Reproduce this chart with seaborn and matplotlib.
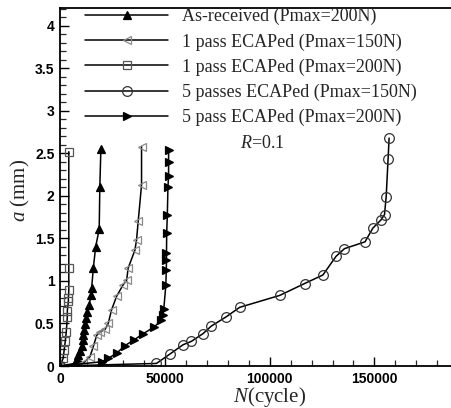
import matplotlib
matplotlib.use("Agg")
import matplotlib.pyplot as plt
import seaborn as sns
import numpy as np
from matplotlib.lines import Line2D
from matplotlib.ticker import MultipleLocator

# ---- data ----
labels = ["As-received (Pmax=200N)", "1 pass ECAPed (Pmax=150N)",
          "1 pass ECAPed (Pmax=200N)", "5 passes ECAPed (Pmax=150N)",
          "5 pass ECAPed (Pmax=200N)"]

n_asrec = [0, 7000, 8000, 8700, 9500, 10300, 10800, 11100, 11600, 12000, 12500,
           13000, 13900, 14800, 15100, 15900, 17000, 18700, 19000, 19500]
a_asrec = [0, 0.03, 0.08, 0.13, 0.18, 0.24, 0.30, 0.36, 0.42, 0.49, 0.56,
           0.63, 0.72, 0.83, 0.92, 1.15, 1.40, 1.61, 2.11, 2.55]

n_1p150 = [0, 11000, 14300, 15900, 17500, 19000, 21500, 23000, 24600, 27000,
           30000, 31800, 32500, 35700, 36500, 37300, 38900, 38900]
a_1p150 = [0, 0.03, 0.11, 0.23, 0.36, 0.40, 0.43, 0.50, 0.66, 0.82,
           0.95, 1.01, 1.15, 1.36, 1.48, 1.70, 2.13, 2.58]

n_1p200 = [0, 1500, 2000, 2500, 3000, 3500, 3500, 4000, 4000, 4200, 4200, 4200]
a_1p200 = [0, 0.09, 0.19, 0.29, 0.40, 0.58, 0.65, 0.76, 0.80, 0.89, 1.15, 2.52]

n_5p150 = [0, 46000, 52400, 58700, 62700, 68200, 72200, 79400, 85700, 104800,
           116700, 125400, 131700, 135700, 145500, 149200, 153200, 154800,
           155600, 156500, 157000]
a_5p150 = [0, 0.03, 0.14, 0.25, 0.29, 0.38, 0.47, 0.58, 0.69, 0.83,
           0.97, 1.07, 1.29, 1.38, 1.46, 1.62, 1.72, 1.78,
           1.99, 2.43, 2.68]

n_5p200 = [0, 20000, 23000, 27000, 31000, 35500, 39700, 45000, 48400, 49000,
           49500, 50500, 50700, 50800, 50800, 50900, 51200, 51500, 51800, 51800, 51800]
a_5p200 = [0, 0.05, 0.09, 0.15, 0.24, 0.31, 0.38, 0.46, 0.54, 0.60,
           0.67, 0.95, 1.13, 1.25, 1.33, 1.56, 1.78, 2.11, 2.23, 2.40, 2.54]

x_ticks = [0, 50000, 100000, 150000]
y_ticks = [0, 0.5, 1, 1.5, 2, 2.5, 3, 3.5, 4]

series = [
    (n_asrec, a_asrec, dict(marker="^", markersize=5.5, markerfacecolor="black",
                            markeredgecolor="black")),
    (n_1p150, a_1p150, dict(marker="<", markersize=5.5, markerfacecolor="none",
                            markeredgecolor="#8a8a8a")),
    (n_1p200, a_1p200, dict(marker="s", markersize=5.5, markerfacecolor="none",
                            markeredgecolor="#555555")),
    (n_5p150, a_5p150, dict(marker="o", markersize=7, markerfacecolor="none",
                            markeredgecolor="#333333")),
    (n_5p200, a_5p200, dict(marker=">", markersize=5.5, markerfacecolor="black",
                            markeredgecolor="black")),
]

sns.set_theme(style="white")
plt.rcParams["font.family"] = ["Liberation Sans", "DejaVu Sans"]
plt.rcParams["mathtext.fontset"] = "custom"
plt.rcParams["mathtext.rm"] = "Liberation Serif"
plt.rcParams["mathtext.it"] = "Liberation Serif:italic"

serif = ["Liberation Serif", "DejaVu Serif"]

fig = plt.figure(figsize=(4.52, 4.08), dpi=100)
ax = fig.add_axes([60 / 452, 42 / 408, 1 - 60 / 452, 358 / 408])

for n, a, st in series:
    sns.lineplot(x=n, y=a, ax=ax, sort=False, estimator=None, color="black",
                 linewidth=1.1, markeredgewidth=0.9, **st)

ax.set_xlim(0, 187000)
ax.set_ylim(0, 4.21)
ax.set_xticks(x_ticks)
ax.set_xticklabels([str(v) for v in x_ticks])
ax.set_yticks(y_ticks)
ax.set_yticklabels([f"{v:g}" for v in y_ticks])
ax.xaxis.set_minor_locator(MultipleLocator(10000))
ax.yaxis.set_minor_locator(MultipleLocator(0.1))
ax.tick_params(which="major", direction="in", length=6.5, width=1.0,
               labelsize=10, colors="black", pad=4, bottom=True, left=True)
ax.tick_params(which="minor", direction="in", length=4, width=0.9,
               bottom=True, left=True)
for lab in ax.get_xticklabels() + ax.get_yticklabels():
    lab.set_fontweight("bold")

for side in ["left", "bottom", "top"]:
    ax.spines[side].set_visible(True)
    ax.spines[side].set_color("black")
    ax.spines[side].set_linewidth(1.3)
ax.spines["right"].set_visible(False)

ax.set_xlabel("")
ax.set_ylabel("")
fig.text(270 / 452, 1 - 397 / 408, r"$N$(cycle)", ha="center", va="center",
         fontsize=15, family=serif)
fig.text(20 / 452, 1 - 190 / 408, r"$a$ (mm)", ha="center", va="center",
         rotation=90, fontsize=15, family=serif)
fig.text(240 / 452, 1 - 143 / 408, r"$R$=0.1", ha="left", va="center",
         fontsize=13, family=serif)

handles = []
for n, a, st in series:
    handles.append(Line2D([0], [0], color="black", linewidth=1.1,
                          markeredgewidth=0.9, **st))
leg = ax.legend(handles, labels, loc="upper left",
                bbox_to_anchor=(85 / 452, 1 - 8 / 408),
                bbox_transform=fig.transFigure, frameon=False,
                handlelength=4.6, handletextpad=0.8, labelspacing=0.44,
                borderpad=0, borderaxespad=0,
                prop={"family": serif, "size": 13})

fig.savefig("out.png", dpi=100)
